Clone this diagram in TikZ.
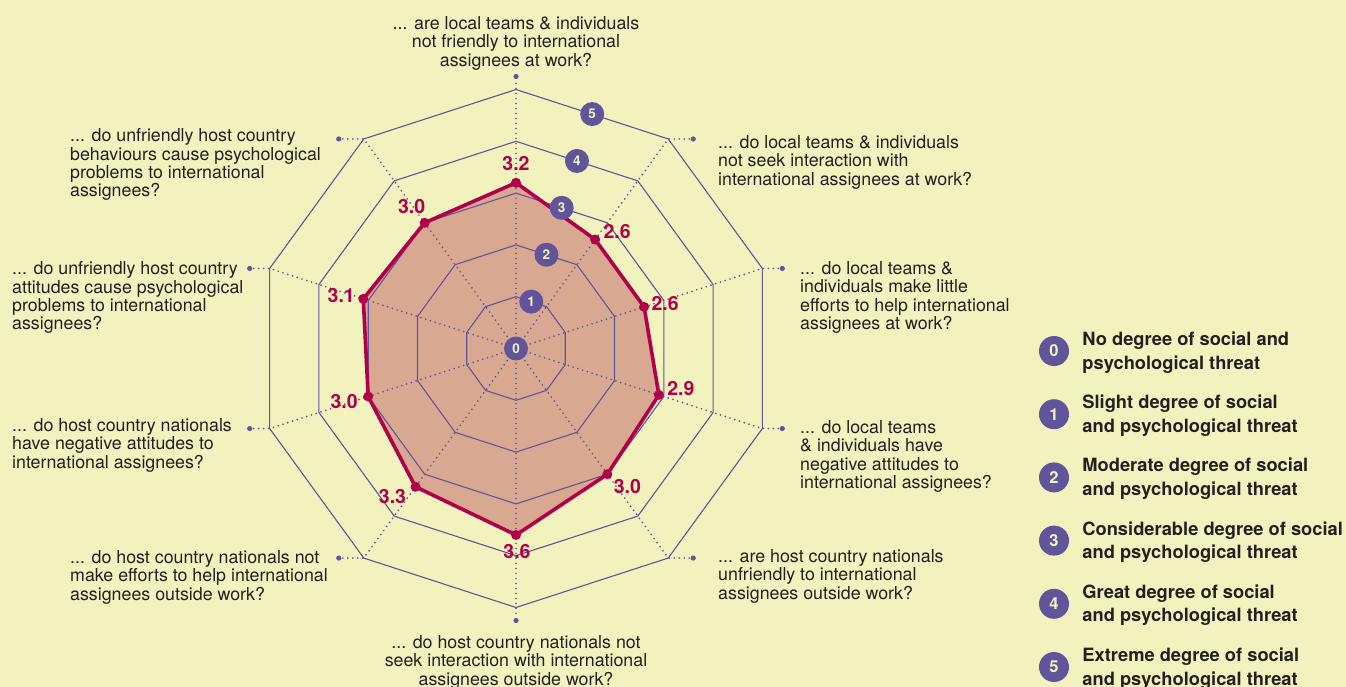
\documentclass[tikz,border=0pt]{standalone}
\usepackage{fontspec}
\setmainfont{TeX Gyre Heros}
\usetikzlibrary{positioning}
\definecolor{bgyellow}{HTML}{F2F2BF}
\definecolor{threatfill}{HTML}{D9A891}
\definecolor{threatred}{HTML}{B0004A}
\definecolor{ringpurple}{HTML}{62549A}
\definecolor{textgrey}{HTML}{231F20}
\tikzset{
  ring/.style={ringpurple, line width=1.1pt},
  spoke/.style={ringpurple, line width=1.9pt, line cap=round, dash pattern=on 0pt off 5pt},
  badge/.style={circle, fill=ringpurple, text=bgyellow, inner sep=0pt, minimum size=24pt, font=\fontsize{13.5}{13.5}\selectfont\bfseries},
  legbadge/.style={badge, minimum size=30pt, font=\fontsize{16.5}{16.5}\selectfont\bfseries},
  question/.style={text=textgrey, inner sep=0pt, font=\fontsize{17.8}{18.4}\selectfont},
  legtext/.style={text=textgrey, inner sep=0pt, align=left, font=\fontsize{18.3}{23.6}\selectfont\bfseries},
  val/.style={text=threatred, inner sep=0pt, font=\fontsize{19.5}{19.5}\selectfont\bfseries}
}
\begin{document}
\begin{tikzpicture}[x=1pt,y=-1pt]
\fill[bgyellow] (0,0) rectangle (1346,687);
\useasboundingbox (0,0) rectangle (1346,687);
\begin{scope}[shift={(516,348.5)},yscale=-1]
\foreach \i/\v in {0/3.2,1/2.6,2/2.6,3/2.9,4/3.0,5/3.6,6/3.3,7/3.0,8/3.1,9/3.0}
  \coordinate (v\i) at ({90-36*\i}:{\v*51.8});
\fill[threatfill] (v0) -- (v1) -- (v2) -- (v3) -- (v4) -- (v5) -- (v6) -- (v7) -- (v8) -- (v9) -- cycle;
\foreach \r in {1,...,5}
  \draw[ring] (90:{\r*51.8}) \foreach \i in {1,...,9}{ -- ({90-36*\i}:{\r*51.8}) } -- cycle;
\foreach \i/\ex/\ey in {0/0/13,1/25/0,2/20/0,3/20/0,4/25/0,5/0/-13,6/-25/0,7/-20/0,8/-20/0,9/-25/0}{
  \draw[spoke] (0,0) -- ({90-36*\i}:259) -- ++(\ex,\ey) coordinate (e\i);
  \fill[ringpurple] (e\i) circle (2.6);
}
\draw[threatred, line width=3.6pt, line join=round] (v0) -- (v1) -- (v2) -- (v3) -- (v4) -- (v5) -- (v6) -- (v7) -- (v8) -- (v9) -- cycle;
\foreach \i in {0,...,9}
  \fill[threatred] (v\i) circle (5);
\foreach \k in {0,...,5}
  \node[badge] (b\k) at (72:{\k*49.3}) {\k};
\end{scope}
% values
\foreach \i/\dx/\dy/\v in {0/0/-19/3.2,1/22/-8/2.6,2/21/-3/2.6,3/22/-6/2.9,4/20/12/3.0,5/1/17/3.6,6/-23/10/3.3,7/-24/5/3.0,8/-22/-3/3.1,9/-13/-16/3.0}
  \node[val] (l\i) at ([shift={(\dx,\dy)}]v\i) {\v};
% questions
\node[question, align=center, anchor=north] (q0) at (516,16.4) {... are local teams \& individuals\\not friendly to international\\assignees at work?};
\node[question, align=left, anchor=north west] (q1) at (718,135.4) {... do local teams \& individuals\\not seek interaction with\\international assignees at work?};
\node[question, align=left, anchor=north west] (q2) at (800,261.4) {... do local teams \&\\individuals make little\\efforts to help international\\assignees at work?};
\node[question, align=left, anchor=north west] (q3) at (800,420.4) {... do local teams\\\& individuals have\\negative attitudes to\\international assignees?};
\node[question, align=left, anchor=north west] (q4) at (718,549.4) {... are host country nationals\\unfriendly to international\\assignees outside work?};
\node[question, align=center, anchor=north] (q5) at (516,635.4) {... do host country nationals not\\seek interaction with international\\assignees outside work?};
\node[question, align=left, anchor=north west] (q6) at (70,550.4) {... do host country nationals not\\make efforts to help international\\assignees outside work?};
\node[question, align=left, anchor=north west] (q7) at (12,418.4) {... do host country nationals\\have negative attitudes to\\international assignees?};
\node[question, align=left, anchor=north west] (q8) at (12,261.4) {... do unfriendly host country\\attitudes cause psychological\\problems to international\\assignees?};
\node[question, align=left, anchor=north west] (q9) at (70,128.4) {... do unfriendly host country\\behaviours cause psychological\\problems to international\\assignees?};
% legend
\foreach \k/\t in {0/{No degree of social and\\psychological threat},1/{Slight degree of social\\and psychological threat},2/{Moderate degree of social\\and psychological threat},3/{Considerable degree of social\\and psychological threat},4/{Great degree of social\\and psychological threat},5/{Extreme degree of social\\and psychological threat}}{
  \node[legbadge] (lg\k) at (1054,{351+63.2*\k}) {\k};
  \node[legtext, right=13pt of lg\k, yshift=-1.5pt] (lt\k) {\t};
}
\end{tikzpicture}
\end{document}
